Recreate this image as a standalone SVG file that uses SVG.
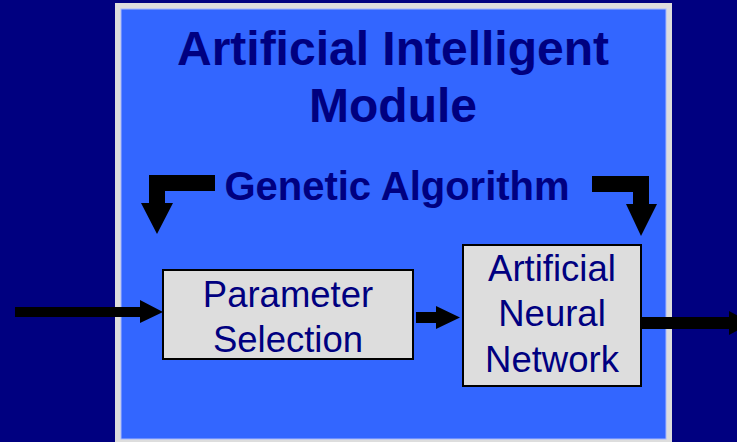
<svg xmlns="http://www.w3.org/2000/svg" width="737" height="442" viewBox="0 0 737 442">
<style>
.title{font-family:"Liberation Sans",Arial,sans-serif;font-weight:bold;fill:#000080;text-anchor:middle}
.lbl{font-family:"Liberation Sans",Arial,sans-serif;font-size:36.5px;fill:#000080;text-anchor:middle}
.box{fill:#DDDDDD;stroke:#000000;stroke-width:2}
.arr{fill:#000000}
</style>
<rect x="0" y="0" width="737" height="442" fill="#000080"/>
<g id="module">
<rect x="115" y="3" width="557" height="445" fill="#DDDDDD"/>
<rect x="121" y="9" width="545" height="430" fill="#3366FF" stroke="#A8B8FF" stroke-width="1"/>
<text class="title" x="393" y="65" font-size="48">Artificial Intelligent</text>
<text class="title" x="393" y="122" font-size="48">Module</text>
</g>
<g id="ga">
<text class="title" x="397" y="200" font-size="40">Genetic Algorithm</text>
</g>
<g id="param">
<rect class="box" x="163" y="270" width="250" height="89"/>
<text class="lbl" x="288" y="307">Parameter</text>
<text class="lbl" x="288" y="352">Selection</text>
</g>
<g id="ann">
<rect class="box" x="463" y="245" width="178" height="141"/>
<text class="lbl" x="552" y="281">Artificial</text>
<text class="lbl" x="552" y="326">Neural</text>
<text class="lbl" x="552" y="372">Network</text>
</g>
<g id="connectors">
<polygon class="arr" points="15,307 140,307 140,300 163,312 140,323 140,317 15,317"/>
<polygon class="arr" points="416,312 436,312 436,306 460,317.5 436,329 436,323 416,323"/>
<polygon class="arr" points="641,317 729,317 729,311 752,323 729,335 729,329 641,329"/>
<polygon class="arr" points="215,175 149,175 149,203 141,203 157,234 173,203 165,203 165,191 215,191"/>
<polygon class="arr" points="592,176 649,176 649,204 657,204 641,236 626,204 633,204 633,192 592,192"/>
</g>
</svg>
